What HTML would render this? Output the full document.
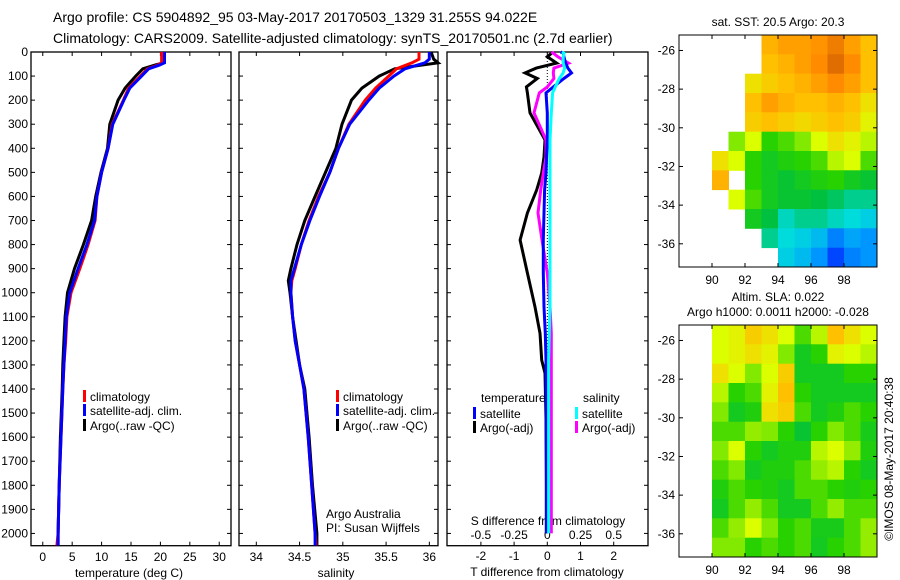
<!DOCTYPE html>
<html><head><meta charset="utf-8"><style>
html,body{margin:0;padding:0;background:#fff;}
svg{display:block;font-family:"Liberation Sans",sans-serif;}
text{font-size:12px;fill:#000;}
</style></head><body>
<svg id="fig" width="900" height="580" viewBox="0 0 900 580" xmlns="http://www.w3.org/2000/svg">
<rect width="900" height="580" fill="#fff"/>
<text x="53" y="22" style="font-size:14px">Argo profile: CS 5904892_95 03-May-2017 20170503_1329 31.255S 94.022E</text>
<text x="53" y="43" style="font-size:14px">Climatology: CARS2009. Satellite-adjusted climatology: synTS_20170501.nc (2.7d earlier)</text>
<g id="g1"></g>
<g id="g2"></g>
<g id="g3"></g>
<g id="g4"></g>
<g id="g5"></g>
<text x="778" y="26" text-anchor="middle">sat. SST: 20.5 Argo: 20.3</text>
<text x="778" y="301" text-anchor="middle">Altim. SLA: 0.022</text>
<text x="778" y="316" text-anchor="middle">Argo h1000: 0.0011 h2000: -0.028</text>
<text transform="translate(893,459) rotate(-90)" text-anchor="middle">©IMOS 08-May-2017 20:40:38</text>
</svg>
<script>
// ---- profile data ----
const depthT = [0,45,55,70,100,150,200,300,400,500,600,700,800,900,1000,1100,1200,1300,1400,1600,1800,2000,2050];
const tempClim = [20.2,20.2,19.5,17.8,16.6,14.6,13.7,11.8,11.1,10.0,9.2,8.9,7.7,6.3,4.8,4.1,3.9,3.6,3.4,3.1,2.8,2.6,2.4];
const tempSat  = [20.7,20.7,19.8,18.0,16.8,14.8,13.8,11.9,11.1,10.0,9.2,8.8,7.5,6.0,4.6,4.0,3.8,3.6,3.4,3.1,2.8,2.6,2.6];
const tempArgo = [20.5,20.5,19.0,17.0,15.8,14.0,12.8,11.4,11.0,9.9,9.0,8.3,6.9,5.4,4.2,3.8,3.6,3.4,3.3,3.0,2.8,2.6,2.6];
const depthS = [0,30,45,70,100,150,200,300,400,500,600,700,800,900,950,1000,1100,1200,1300,1400,1600,1800,2000,2050];
const salClim = [35.88,35.88,35.8,35.62,35.53,35.38,35.26,35.07,34.95,34.85,34.72,34.61,34.52,34.45,34.41,34.40,34.42,34.45,34.50,34.55,34.60,34.64,34.68,34.69];
const salSat  = [36.0,36.0,35.95,35.72,35.59,35.42,35.30,35.08,34.95,34.85,34.73,34.62,34.52,34.44,34.40,34.40,34.42,34.45,34.50,34.55,34.60,34.64,34.68,34.68];
const salArgo = [36.02,36.05,36.1,35.6,35.42,35.22,35.10,34.99,34.92,34.80,34.68,34.56,34.47,34.40,34.37,34.39,34.42,34.46,34.50,34.56,34.61,34.65,34.70,34.70];
const depthD = [0,5,20,46,67,87,110,145,170,253,365,436,503,573,669,781,918,1059,1168,1280,1334,1525,1800,2000];
const dTsat  = [0.4,0.48,0.5,0.55,0.62,0.73,0.5,0.18,-0.04,0.0,0.0,-0.02,-0.04,-0.08,-0.1,-0.12,-0.12,-0.1,-0.06,-0.04,-0.04,-0.03,-0.02,-0.02];
const dTargo = [0.1,0.13,0.0,0.28,-0.33,-0.67,-0.3,-0.63,-0.6,-0.52,-0.07,-0.1,-0.17,-0.32,-0.6,-0.82,-0.6,-0.37,-0.22,-0.17,-0.07,-0.04,-0.03,-0.03];
const dSsat  = [0.11,0.126,0.12,0.12,0.13,0.12,0.09,0.06,0.04,0.03,0.02,0.02,0.02,0.02,0.02,0.02,0.02,0.02,0.015,0.01,0.01,0.01,0.01,0.01];
const dSargo = [0.03,0.045,0.08,0.16,0.05,0.045,0.05,0.0,-0.06,-0.1,-0.01,-0.01,-0.03,-0.05,-0.07,-0.04,0.0,0.02,0.03,0.03,0.03,0.03,0.03,0.03];
// ---- map data (colour index 0..1, null = no data) ----
const sstLons = [88,89,90,91,92,93,94,95,96,97,98,99];
const sstRows = [
[null,null,null,null,null,.82,.85,.85,.87,.9,.85,.8],
[null,null,null,null,null,.8,.82,.85,.88,.92,.88,.8],
[null,null,null,null,.75,.78,.8,.82,.85,.88,.85,.8],
[null,null,null,null,.8,.85,.82,.8,.8,.82,.8,.75],
[null,null,null,null,.78,.8,.78,.76,.78,.8,.78,.72],
[null,null,null,.65,.7,.6,.62,.65,.7,.75,.72,.68],
[null,null,.75,.7,.6,.55,.58,.6,.62,.68,.7,.62],
[null,null,.82,null,.6,.55,.52,.55,.58,.6,.55,.52],
[null,null,null,.7,.62,.55,.52,.52,.5,.48,.45,.45],
[null,null,null,null,.55,.5,.42,.45,.45,.42,.4,.38],
[null,null,null,null,null,.45,.4,.38,.35,.28,.32,.3],
[null,null,null,null,null,null,.38,.35,.3,.22,.28,.3]];
const slaLons = [90,91,92,93,94,95,96,97,98,99];
const slaRows = [
[.7,.72,.78,.75,.7,.62,.68,.8,.75,.7],
[.7,.72,.75,.72,.65,.55,.6,.72,.7,.68],
[.75,.7,.65,.7,.78,.55,.55,.55,.6,.6],
[.68,.6,.62,.72,.8,.6,.55,.55,.55,.55],
[.65,.55,.58,.75,.78,.62,.55,.58,.62,.6],
[.62,.62,.66,.65,.6,.52,.6,.65,.62,.56],
[.65,.7,.6,.55,.58,.58,.68,.7,.66,.58],
[.62,.65,.55,.58,.58,.62,.66,.68,.6,.55],
[.58,.62,.6,.58,.55,.62,.62,.6,.58,.6],
[.55,.62,.66,.62,.55,.55,.62,.66,.62,.62],
[.62,.66,.7,.65,.6,.62,.56,.56,.62,.66],
[.65,.65,.6,.62,.6,.62,.55,.6,.62,.66]];
const depthTicks = [0,100,200,300,400,500,600,700,800,900,1000,1100,1200,1300,1400,1500,1600,1700,1800,1900,2000];
const tempTicks = [0,5,10,15,20,25,30];
const salTicks = [34,34.5,35,35.5,36];
const tdTicks = [-2,-1,0,1,2];
const sdTicks = [-0.5,-0.25,0,0.25,0.5];
const lonTicks = [90,92,94,96,98];
const latTicks = [-26,-28,-30,-32,-34,-36];

const NS='http://www.w3.org/2000/svg';
function mk(parent,tag,attrs,txt){const e=document.createElementNS(NS,tag);for(const k in attrs)e.setAttribute(k,attrs[k]);if(txt!==undefined)e.textContent=txt;parent.appendChild(e);return e;}
const Y0=52,Y1=545.7,DMAX=2051;
const yD=d=>Y0+(d/DMAX)*(Y1-Y0);
function frame(g,x0,x1,name){
  const r=mk(g,'rect',{x:x0,y:Y0,width:x1-x0,height:Y1-Y0,fill:'none',stroke:'#000','stroke-width':1.3});
  
  
}
function line(g,xs,ds,xf,color,name,w){
  const pts=xs.map((v,i)=>xf(v).toFixed(1)+','+yD(ds[i]).toFixed(1)).join(' ');
  const p=mk(g,'polyline',{points:pts,fill:'none',stroke:color,'stroke-width':w||3,'stroke-linejoin':'miter'});
  
  
}
function xticks(g,vals,xf,ylab,fmt,name){
  vals.forEach(v=>{const x=xf(v);
    mk(g,'line',{x1:x,x2:x,y1:Y1,y2:Y1-4,stroke:'#000'});
    mk(g,'line',{x1:x,x2:x,y1:Y0,y2:Y0+4,stroke:'#000'});
    const t=mk(g,'text',{x:x,y:ylab,'text-anchor':'middle'},fmt?fmt(v):String(v));
    
    
  });
}
function yticks(g,x0,x1){depthTicks.forEach(d=>{const y=yD(d);
  mk(g,'line',{x1:x0,x2:x0+4,y1:y,y2:y,stroke:'#000'});mk(g,'line',{x1:x1,x2:x1-4,y1:y,y2:y,stroke:'#000'});});}
function legend(g,x,y,color,label,name){
  mk(g,'rect',{x:x,y:y-9,width:3,height:12,fill:color});
  const t=mk(g,'text',{x:x+7,y:y+2},label);
  
  
}
// Panel 1 temperature
const g1=document.getElementById('g1');
const xT=v=>31+(v+2)/34*200;
frame(g1,31,231,'temperature-axes');yticks(g1,31,231);
depthTicks.forEach(d=>{const t=mk(g1,'text',{x:28,y:yD(d)+4,'text-anchor':'end'},String(d));
  
  });
xticks(g1,tempTicks,xT,561,null,'temperature-tick-label');
{const t=mk(g1,'text',{x:129,y:577,'text-anchor':'middle'},'temperature (deg C)');

}
line(g1,tempArgo,depthT,xT,'#000','temperature-argo-line');
line(g1,tempClim,depthT,xT,'#f00','temperature-climatology-line');
line(g1,tempSat,depthT,xT,'#00f','temperature-satellite-line');
legend(g1,83,399,'#f00','climatology','legend-climatology');
legend(g1,83,413,'#00f','satellite-adj. clim.','legend-satellite-adj');
legend(g1,83,428,'#000','Argo(..raw -QC)','legend-argo');
// Panel 2 salinity
const g2=document.getElementById('g2');
const xS=v=>239+(v-33.8)/2.3*199;
frame(g2,239,438,'salinity-axes');yticks(g2,239,438);
xticks(g2,salTicks,xS,561,null,'salinity-tick-label');
{const t=mk(g2,'text',{x:336,y:577,'text-anchor':'middle'},'salinity');

}
line(g2,salArgo,depthS,xS,'#000','salinity-argo-line');
line(g2,salClim,depthS,xS,'#f00','salinity-climatology-line');
line(g2,salSat,depthS,xS,'#00f','salinity-satellite-line');
legend(g2,336,399,'#f00','climatology','legend-climatology');
legend(g2,336,413,'#00f','satellite-adj. clim.','legend-satellite-adj');
legend(g2,336,428,'#000','Argo(..raw -QC)','legend-argo');
{let t=mk(g2,'text',{x:326,y:518},'Argo Australia');


t=mk(g2,'text',{x:326,y:532},'PI: Susan Wijffels');

}
// Panel 3 differences
const g3=document.getElementById('g3');
const xTd=v=>547.3+v*33.2, xSd=v=>547.3+v*132.8;
frame(g3,447,648,'difference-axes');yticks(g3,447,648);
mk(g3,'line',{x1:547.3,x2:547.3,y1:Y0,y2:yD(1400),stroke:'#000','stroke-dasharray':'1,2'});
tdTicks.forEach(v=>{const x=xTd(v);mk(g3,'line',{x1:x,x2:x,y1:Y1,y2:Y1-4,stroke:'#000'});mk(g3,'line',{x1:x,x2:x,y1:Y0,y2:Y0+4,stroke:'#000'});
  const t=mk(g3,'text',{x:x,y:560,'text-anchor':'middle'},String(v));
  
  });
sdTicks.forEach(v=>{const t=mk(g3,'text',{x:xSd(v),y:539,'text-anchor':'middle'},String(v));
  
  });
{let t=mk(g3,'text',{x:548,y:525,'text-anchor':'middle'},'S difference from climatology');


t=mk(g3,'text',{x:547,y:576,'text-anchor':'middle'},'T difference from climatology');

}
line(g3,dTargo,depthD,xTd,'#000','t-diff-argo-line');
line(g3,dSargo,depthD,xSd,'#f0f','s-diff-argo-line');
line(g3,dTsat,depthD,xTd,'#00f','t-diff-satellite-line');
line(g3,dSsat,depthD,xSd,'#0ff','s-diff-satellite-line');
{const t=mk(g3,'text',{x:481,y:402},'temperature');

}
legend(g3,473,416,'#00f','satellite','legend-t-satellite');
legend(g3,473,430,'#000','Argo(-adj)','legend-t-argo');
{const t=mk(g3,'text',{x:583,y:402},'salinity');

}
legend(g3,575,416,'#0ff','satellite','legend-s-satellite');
legend(g3,575,430,'#f0f','Argo(-adj)','legend-s-argo');
// Maps
const stops=[[0,[0,0,143]],[.15,[0,0,255]],[.3,[0,150,255]],[.4,[0,220,220]],[.5,[0,192,64]],[.6,[40,210,0]],[.7,[220,255,0]],[.8,[255,192,0]],[.88,[255,140,0]],[1,[160,48,0]]];
function cmap(v){for(let i=1;i<stops.length;i++){if(v<=stops[i][0]){const a=stops[i-1],b=stops[i],f=(v-a[0])/(b[0]-a[0]);
  return 'rgb('+a[1].map((c,k)=>Math.round(c+(b[1][k]-c)*f)).join(',')+')';}}return 'rgb(160,48,0)';}
function map(g,top,lons,rows,name){
  const L=679,R=877,bot=top+232;
  const xL=lon=>L+(lon-88)/12*(R-L);
  const yL=lat=>top+(-25.2-lat)/12*(bot-top);
  rows.forEach((row,ri)=>row.forEach((v,ci)=>{if(v===null)return;
    const lat=-25.2-ri,lon=lons[ci];
    const c=mk(g,'rect',{x:xL(lon).toFixed(1),y:yL(lat).toFixed(1),width:(xL(lon+1)-xL(lon)+0.5).toFixed(1),height:(yL(lat-1)-yL(lat)+0.5).toFixed(1),fill:cmap(v)});
    
    }));
  const f=mk(g,'rect',{x:L,y:top,width:R-L,height:bot-top,fill:'none',stroke:'#000','stroke-width':1});
  
  
  lonTicks.forEach(lon=>{const x=xL(lon);mk(g,'line',{x1:x,x2:x,y1:bot,y2:bot-4,stroke:'#000'});mk(g,'line',{x1:x,x2:x,y1:top,y2:top+4,stroke:'#000'});
    const t=mk(g,'text',{x:x,y:bot+17,'text-anchor':'middle'},String(lon));
    
    });
  latTicks.forEach(lat=>{const y=yL(lat);mk(g,'line',{x1:L,x2:L+4,y1:y,y2:y,stroke:'#000'});mk(g,'line',{x1:R,x2:R-4,y1:y,y2:y,stroke:'#000'});
    const t=mk(g,'text',{x:L-4,y:y+4,'text-anchor':'end'},String(lat));
    
    });
}
map(document.getElementById('g4'),35,sstLons,sstRows,'sst');
map(document.getElementById('g5'),325,slaLons,slaRows,'sla');
</script>
</body></html>
